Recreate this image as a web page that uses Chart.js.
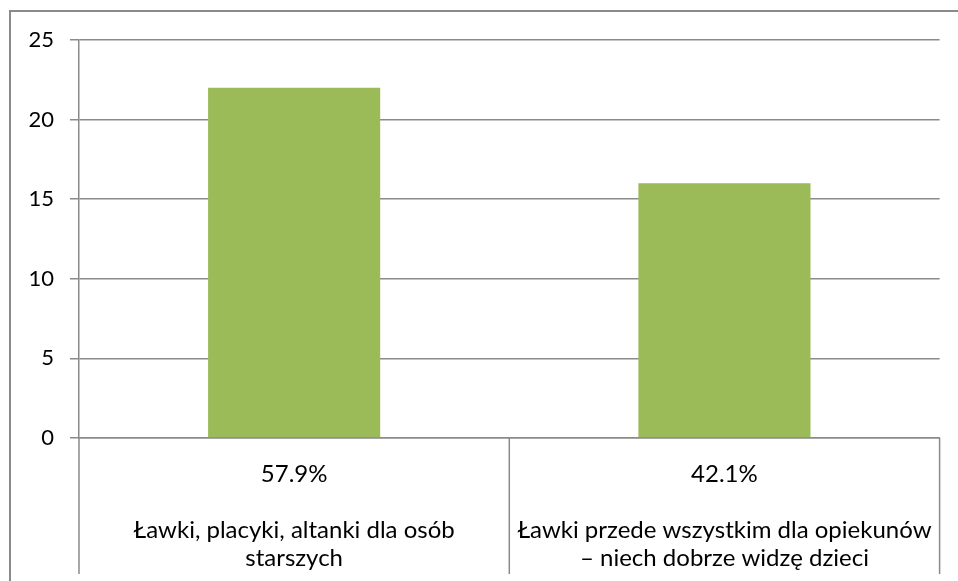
<!DOCTYPE html>
<html>
<head>
<meta charset="utf-8">
<script src="https://cdn.jsdelivr.net/npm/chart.js@4"></script>
<style>
  body { margin: 0; background: #fff; }
  #wrap { position: relative; width: 958px; height: 581px; }
</style>
</head>
<body>
<div id="wrap"><canvas id="myChart"></canvas></div>
<script>
const percents = ['57.9%', '42.1%'];
const names = [
    ['Ławki, placyki, altanki dla osób', 'starszych'],
    ['Ławki przede wszystkim dla opiekunów', '– niech dobrze widzę dzieci']
];
const counts = [22, 16];
const yTicks = [0, 5, 10, 15, 20, 25];

const labels = percents.map((p, i) => [p, ''].concat(names[i]));
const gridColor = '#8a8a8a';

// frame round the chart + divider lines under the x axis
const framePlugin = {
    id: 'frame',
    beforeDraw(chart) {
        const ctx = chart.ctx;
        ctx.save();
        ctx.strokeStyle = gridColor;
        ctx.lineWidth = 2;
        ctx.beginPath();
        ctx.moveTo(10, chart.height);
        ctx.lineTo(10, 11);
        ctx.lineTo(chart.width, 11);
        ctx.stroke();
        ctx.restore();
    },
    afterDraw(chart) {
        const ctx = chart.ctx;
        const x = chart.scales.x;
        const area = chart.chartArea;
        const step = x.getPixelForValue(1) - x.getPixelForValue(0);
        ctx.save();
        ctx.strokeStyle = gridColor;
        ctx.lineWidth = 1.5;
        ctx.beginPath();
        for (let i = 0; i <= labels.length; i++) {
            const px = x.getPixelForValue(0) + (i - 0.5) * step;
            ctx.moveTo(px, area.bottom);
            ctx.lineTo(px, chart.height - 7);
        }
        ctx.stroke();
        ctx.restore();
    }
};

const data = {
    labels: labels,
    datasets: [{
        data: counts,
        backgroundColor: '#9bbb59',
        barPercentage: 0.4,
        categoryPercentage: 1.0
    }]
};

const options = {
    responsive: true,
    maintainAspectRatio: false,
    animation: false,
    layout: {
        padding: { top: 40, left: 0, right: 18, bottom: 0 }
    },
    plugins: {
        legend: { display: false },
        tooltip: { enabled: false }
    },
    scales: {
        x: {
            afterFit(scale) { scale.height = 143; },
            grid: { display: false, drawTicks: false },
            border: { display: true, color: gridColor, width: 1.5 },
            ticks: {
                color: '#000',
                padding: 22,
                maxRotation: 0,
                autoSkip: false,
                font: { family: 'Lato', size: 24, lineHeight: 28 / 24 }
            }
        },
        y: {
            min: 0,
            max: 25,
            afterFit(scale) { scale.width = 79; },
            afterBuildTicks(scale) {
                scale.ticks = yTicks.map(v => ({ value: v }));
            },
            grid: { color: gridColor, lineWidth: 1.5, tickLength: 9 },
            border: { display: true, color: gridColor, width: 1.5 },
            ticks: {
                color: '#000',
                padding: 16,
                font: { family: 'Lato', size: 22 }
            }
        }
    }
};

const config = {
    type: 'bar',
    data,
    options,
    plugins: [framePlugin]
};

const myChart = new Chart(
    document.getElementById('myChart'),
    config
);
</script>
</body>
</html>
